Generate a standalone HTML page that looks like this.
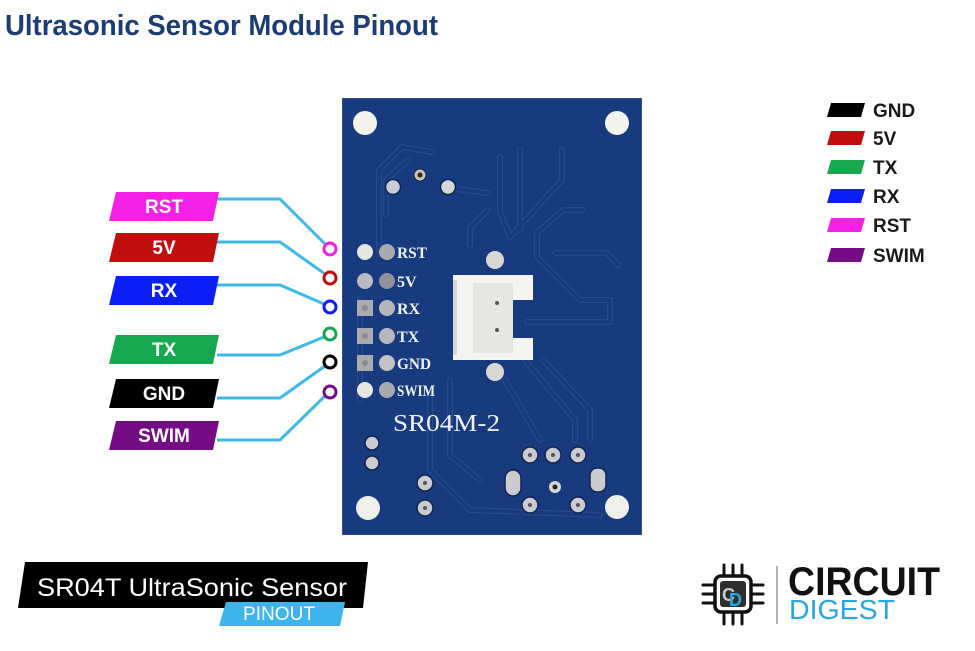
<!DOCTYPE html>
<html><head><meta charset="utf-8"><style>
html,body{margin:0;padding:0;background:#fff;}
svg{display:block;}
</style></head><body>
<svg width="975" height="651" viewBox="0 0 975 651" xmlns="http://www.w3.org/2000/svg">
<rect width="975" height="651" fill="#ffffff"/>

<!-- Title -->
<text x="5" y="35" font-family="Liberation Sans, sans-serif" font-weight="bold" font-size="29" fill="#1c3d72" textLength="433" lengthAdjust="spacingAndGlyphs">Ultrasonic Sensor Module Pinout</text>

<!-- PCB -->
<rect x="342" y="98" width="300" height="437" fill="#183a7e"/>
<rect x="342.5" y="98.5" width="299" height="436" fill="none" stroke="#2a4f94" stroke-width="1"/>

<!-- traces -->
<g fill="none" stroke-linejoin="round" stroke-linecap="round">
 <g stroke="#264b90" stroke-width="6">
  <path d="M432,152 L402,147 L379,170 L379,250"/>
  <path d="M408,160 L386,180 L386,215"/>
  <path d="M500,157 L500,212 L510,237"/>
  <path d="M449,188 L488,193"/>
  <path d="M488,210 L470,228 L470,245"/>
  <path d="M562,150 L562,180 L510,237"/>
  <path d="M583,210 L563,210 L537,233 L537,257 L580,300 L610,300 L610,322 L527,322"/>
  <path d="M555,253 L607,253 L618,265"/>
  <path d="M543,360 L590,410 L590,440"/>
  <path d="M525,360 L575,420 L575,440"/>
  <path d="M505,380 L540,440"/>
  <path d="M430,395 L430,470 L470,510 L600,515"/>
  <path d="M450,380 L450,455 L480,480"/>
  <path d="M360,300 L360,400"/>
  <path d="M520,150 L520,230"/>
 </g>
 <g stroke="#183a7e" stroke-width="3.5">
  <path d="M432,152 L402,147 L379,170 L379,250"/>
  <path d="M408,160 L386,180 L386,215"/>
  <path d="M500,157 L500,212 L510,237"/>
  <path d="M449,188 L488,193"/>
  <path d="M488,210 L470,228 L470,245"/>
  <path d="M562,150 L562,180 L510,237"/>
  <path d="M583,210 L563,210 L537,233 L537,257 L580,300 L610,300 L610,322 L527,322"/>
  <path d="M555,253 L607,253 L618,265"/>
  <path d="M543,360 L590,410 L590,440"/>
  <path d="M525,360 L575,420 L575,440"/>
  <path d="M505,380 L540,440"/>
  <path d="M430,395 L430,470 L470,510 L600,515"/>
  <path d="M450,380 L450,455 L480,480"/>
  <path d="M360,300 L360,400"/>
  <path d="M520,150 L520,230"/>
 </g>
</g>

<!-- mounting holes -->
<circle cx="365" cy="123" r="12" fill="#f4f4ef"/>
<circle cx="617" cy="123" r="12" fill="#f4f4ef"/>
<circle cx="368" cy="508" r="12" fill="#eeeeea"/>
<circle cx="617" cy="507" r="12" fill="#eeeeea"/>

<!-- top pads -->
<circle cx="393" cy="187" r="7.5" fill="#c9ccd0" stroke="#0f2550" stroke-width="1.5"/>
<circle cx="448" cy="187" r="7.5" fill="#d4d6da" stroke="#0f2550" stroke-width="1.5"/>
<circle cx="420" cy="175" r="6" fill="#c8c4b8" stroke="#0f2550" stroke-width="1"/>
<circle cx="420" cy="175" r="2.5" fill="#3a2a10"/>

<!-- header pads -->
<g>
 <circle cx="365" cy="252" r="8" fill="#e6e6e2"/>
 <circle cx="365" cy="281" r="8" fill="#b9bcc0"/>
 <rect x="357" y="300" width="16" height="16" fill="#a9abaf"/>
 <rect x="357" y="328" width="16" height="16" fill="#a9abaf"/>
 <rect x="357" y="355" width="16" height="16" fill="#a9abaf"/>
 <circle cx="365" cy="390" r="8" fill="#e6e6e2"/>
 <circle cx="365" cy="308" r="3" fill="#8a8d92"/>
 <circle cx="365" cy="336" r="3" fill="#8a8d92"/>
 <circle cx="365" cy="363" r="3" fill="#8a8d92"/>
 <circle cx="387" cy="252" r="8" fill="#a8abae"/>
 <circle cx="387" cy="281" r="8" fill="#8f9296"/>
 <circle cx="387" cy="308" r="8" fill="#b5b7ba"/>
 <circle cx="387" cy="336" r="8" fill="#b5b7ba"/>
 <circle cx="387" cy="363" r="8" fill="#c0c2c4"/>
 <circle cx="387" cy="390" r="8" fill="#a8abae"/>
</g>
<g font-family="Liberation Serif, serif" font-weight="bold" font-size="16" fill="#eef2fa">
 <text x="397" y="258" textLength="30" lengthAdjust="spacingAndGlyphs">RST</text>
 <text x="397" y="287">5V</text>
 <text x="397" y="314">RX</text>
 <text x="397" y="342">TX</text>
 <text x="397" y="369" textLength="34" lengthAdjust="spacingAndGlyphs">GND</text>
 <text x="397" y="396" textLength="38" lengthAdjust="spacingAndGlyphs">SWIM</text>
</g>

<!-- connector -->
<circle cx="495" cy="260" r="9" fill="#d8d8d4"/>
<circle cx="495" cy="372" r="9" fill="#d8d8d4"/>
<path d="M453,275 H533 V300 H513 V338 H533 V360 H453 Z" fill="#f4f4f0"/>
<rect x="473" y="283" width="40" height="70" fill="#e6e6e2"/>
<rect x="453" y="280" width="4" height="75" fill="#d6d6d2"/>
<circle cx="497" cy="303" r="2" fill="#555"/>
<circle cx="497" cy="330" r="2" fill="#555"/>

<!-- SR04M-2 -->
<text x="393" y="431" font-family="Liberation Serif, serif" font-size="24" fill="#f2f5fb" textLength="107" lengthAdjust="spacingAndGlyphs">SR04M-2</text>

<!-- bottom pads -->
<g fill="#c9cbce" stroke="#0f2550" stroke-width="1.5">
 <circle cx="372" cy="443" r="7"/>
 <circle cx="372" cy="463" r="7"/>
 <circle cx="425" cy="483" r="8"/>
 <circle cx="425" cy="508" r="8"/>
 <circle cx="530" cy="455" r="8"/>
 <circle cx="553" cy="455" r="8"/>
 <circle cx="578" cy="455" r="8"/>
 <circle cx="530" cy="505" r="8"/>
 <circle cx="578" cy="505" r="8"/>
 <rect x="505" y="470" width="16" height="26" rx="8"/>
 <rect x="590" y="468" width="16" height="24" rx="7"/>
</g>
<g fill="#555">
 <circle cx="530" cy="455" r="2"/><circle cx="553" cy="455" r="2"/><circle cx="578" cy="455" r="2"/>
 <circle cx="530" cy="505" r="2"/><circle cx="578" cy="505" r="2"/>
 <circle cx="425" cy="483" r="2"/><circle cx="425" cy="508" r="2"/>
</g>
<circle cx="555" cy="487" r="6" fill="#d8d6d0"/>
<circle cx="555" cy="487" r="2.5" fill="#222"/>

<!-- connector lines -->
<g fill="none" stroke="#3db8e8" stroke-width="3" stroke-linejoin="round">
 <path d="M217,199 H280 L326,245"/>
 <path d="M217,242 H280 L325,274"/>
 <path d="M217,285 H280 L324,304"/>
 <path d="M217,355 H280 L324,337"/>
 <path d="M217,398 H280 L325,366"/>
 <path d="M217,440 H280 L325,396"/>
</g>
<g fill="#fff" stroke-width="3">
 <circle cx="330" cy="249" r="6" stroke="#f020e0"/>
 <circle cx="330" cy="278" r="6" stroke="#c00d0d"/>
 <circle cx="330" cy="307" r="6" stroke="#0b1ef5"/>
 <circle cx="330" cy="334" r="6" stroke="#17a84f"/>
 <circle cx="330" cy="362" r="6" stroke="#000"/>
 <circle cx="330" cy="392" r="6" stroke="#750c86"/>
</g>

<!-- labels -->
<polygon points="116,192 219,192 213,221 109,221" fill="#f520e6"/>
<polygon points="116,233 219,233 213,262 109,262" fill="#c00d0d"/>
<polygon points="116,276 219,276 213,305 109,305" fill="#0b1ef5"/>
<polygon points="116,335 219,335 213,364 109,364" fill="#17a84f"/>
<polygon points="116,379 219,379 213,408 109,408" fill="#000000"/>
<polygon points="116,421 219,421 213,450 109,450" fill="#750c86"/>
<g font-family="Liberation Sans, sans-serif" font-weight="bold" font-size="19" fill="#fff" text-anchor="middle">
 <text x="164" y="213">RST</text>
 <text x="164" y="254">5V</text>
 <text x="164" y="297">RX</text>
 <text x="164" y="356">TX</text>
 <text x="164" y="400">GND</text>
 <text x="164" y="442">SWIM</text>
</g>

<!-- legend -->
<g>
 <polygon points="831,103 865,103 861,117 827,117" fill="#000"/>
 <polygon points="831,131 865,131 861,145 827,145" fill="#c00d0d"/>
 <polygon points="831,160 865,160 861,174 827,174" fill="#17a84f"/>
 <polygon points="831,189 865,189 861,203 827,203" fill="#0b1ef5"/>
 <polygon points="831,218 865,218 861,232 827,232" fill="#f520e6"/>
 <polygon points="831,248 865,248 861,262 827,262" fill="#750c86"/>
</g>
<g font-family="Liberation Sans, sans-serif" font-weight="bold" font-size="19" fill="#1a1a1a">
 <text x="873" y="117">GND</text>
 <text x="873" y="145">5V</text>
 <text x="873" y="174">TX</text>
 <text x="873" y="203">RX</text>
 <text x="873" y="232">RST</text>
 <text x="873" y="262">SWIM</text>
</g>

<!-- bottom banner -->
<polygon points="25,562 368,562 363,608 18,608" fill="#000"/>
<text x="37" y="596" font-family="Liberation Sans, sans-serif" font-size="25" fill="#fff" textLength="310" lengthAdjust="spacingAndGlyphs">SR04T UltraSonic Sensor</text>
<polygon points="226,602 345,602 340,626 219,626" fill="#3db5ea"/>
<text x="243" y="620" font-family="Liberation Sans, sans-serif" font-size="19" fill="#fff" textLength="72" lengthAdjust="spacingAndGlyphs">PINOUT</text>

<!-- logo -->
<g stroke="#111" stroke-width="3" stroke-linecap="round">
 <line x1="724" y1="565" x2="724" y2="575"/><line x1="733" y1="565" x2="733" y2="575"/><line x1="742" y1="565" x2="742" y2="575"/>
 <line x1="724" y1="614" x2="724" y2="624"/><line x1="733" y1="614" x2="733" y2="624"/><line x1="742" y1="614" x2="742" y2="624"/>
 <line x1="703" y1="585" x2="713" y2="585"/><line x1="703" y1="594" x2="713" y2="594"/><line x1="703" y1="603" x2="713" y2="603"/>
 <line x1="753" y1="585" x2="763" y2="585"/><line x1="753" y1="594" x2="763" y2="594"/><line x1="753" y1="603" x2="763" y2="603"/>
</g>
<rect x="715" y="576" width="36" height="36" rx="6" fill="#fff" stroke="#111" stroke-width="3.5"/>
<rect x="720" y="581" width="26" height="26" rx="3" fill="#2e2e2e"/>
<text x="722" y="601" font-family="Liberation Sans, sans-serif" font-weight="bold" font-size="18" fill="#c8c8c8">C</text>
<text x="729" y="606" font-family="Liberation Sans, sans-serif" font-weight="bold" font-size="18" fill="#2aa6df">D</text>
<line x1="777" y1="566" x2="777" y2="624" stroke="#999" stroke-width="1.5"/>
<text x="788" y="595" font-family="Liberation Sans, sans-serif" font-weight="bold" font-size="40" fill="#111" textLength="152" lengthAdjust="spacingAndGlyphs">CIRCUIT</text>
<text x="789" y="619" font-family="Liberation Sans, sans-serif" font-size="28" fill="#2aa6df" textLength="106" lengthAdjust="spacingAndGlyphs">DIGEST</text>
</svg>
</body></html>
